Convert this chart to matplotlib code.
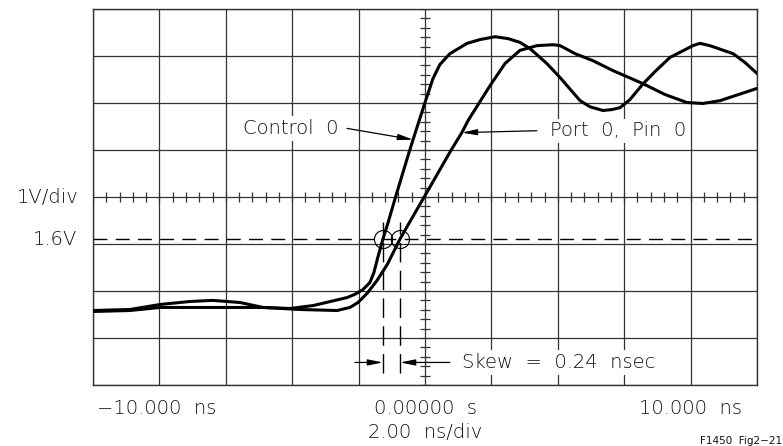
import numpy as np
import matplotlib.pyplot as plt

# Leitura aproximada da tela do osciloscópio (tempo em ns, tensão em V)
control_t = [-10.0, -8.89, -7.98, -7.08, -6.39, -5.57, -4.88, -4.07, -3.37, -2.71,
             -2.35, -2.11, -1.87, -1.66, -1.54, -1.42, -1.265, -1.11, -0.90, -0.48,
             -0.36, 0.0, 0.24, 0.45, 0.75, 1.27, 1.66, 2.11, 2.50, 2.86,
             3.16, 3.67, 4.07, 4.67, 4.97, 5.36, 5.63, 5.87, 6.17, 6.57,
             6.96, 7.38, 8.07, 8.28, 8.58, 9.28, 9.64, 10.0]
control_v = [0.085, 0.106, 0.213, 0.277, 0.30, 0.255, 0.15, 0.128, 0.19, 0.30,
             0.36, 0.43, 0.53, 0.68, 0.89, 1.22, 1.61, 1.96, 2.47, 3.45,
             3.72, 4.51, 5.02, 5.32, 5.55, 5.77, 5.85, 5.91, 5.87, 5.79,
             5.66, 5.34, 5.04, 4.55, 4.42, 4.34, 4.36, 4.40, 4.57, 4.91,
             5.19, 5.47, 5.72, 5.77, 5.72, 5.55, 5.36, 5.13]

port_t = [-10.0, -8.89, -7.98, -6.08, -4.88, -3.76, -2.65, -2.26, -2.02, -1.87,
          -1.72, -1.45, -1.14, -0.75, -0.45, 0.0, 0.78, 1.11, 1.30, 1.96,
          2.41, 2.86, 3.37, 3.86, 4.07, 4.52, 5.06, 5.66, 6.57, 7.23,
          7.89, 8.37, 8.89, 9.10, 10.0]
port_v = [0.064, 0.085, 0.15, 0.15, 0.15, 0.106, 0.085, 0.15, 0.255, 0.36,
          0.47, 0.72, 1.06, 1.61, 1.98, 2.53, 3.49, 3.87, 4.13, 4.87,
          5.34, 5.62, 5.72, 5.74, 5.72, 5.55, 5.40, 5.19, 4.91, 4.68,
          4.51, 4.49, 4.55, 4.60, 4.81]

threshold = 1.6
cross_t = [-1.265, -0.753]   # cruzamentos no limiar
t_min, t_max = -10.0, 10.0
v_min, v_max = -1.5, 6.5
v_center = 2.5

fig = plt.figure(figsize=(7.83, 4.46), dpi=100)
ax = fig.add_axes([93 / 783, 1 - 385 / 446, 664 / 783, 376 / 446])
ax.set_xlim(t_min, t_max)
ax.set_ylim(v_min, v_max)

grid_col = '#333333'
ax.set_xticks(np.arange(t_min, t_max + 0.1, 2.0))
ax.set_yticks(np.arange(v_min, v_max + 0.1, 1.0))
ax.tick_params(length=0, labelbottom=False, labelleft=False)
ax.grid(True, color=grid_col, lw=0.9)
for s in ax.spines.values():
    s.set_color(grid_col)
    s.set_linewidth(1.0)

# marcas menores nos eixos centrais
ax.plot(np.arange(t_min, t_max + 0.01, 0.4), np.full(51, v_center), ls='none',
        marker='|', ms=7, mew=0.9, color=grid_col, zorder=2)
ax.plot(np.zeros(41), np.arange(v_min, v_max + 0.01, 0.2), ls='none',
        marker='_', ms=7, mew=0.9, color=grid_col, zorder=2)

# nível de 1.6 V
ax.axhline(threshold, color='black', lw=1.0, dashes=(10, 6), zorder=2)

# formas de onda
ax.plot(control_t, control_v, color='black', lw=2.2, solid_joinstyle='round', zorder=4)
ax.plot(port_t, port_v, color='black', lw=2.2, solid_joinstyle='round', zorder=4)

# círculos e marcadores de skew
ax.plot(cross_t, [threshold, threshold], ls='none', marker='o', ms=13,
        mfc='none', mec='black', mew=0.8, zorder=5)
for ct in cross_t:
    ax.plot([ct, ct], [-1.25, 1.96], color='black', lw=1.0, dashes=(14, 6), zorder=3)

arrow = dict(arrowstyle='-|>,head_length=0.9,head_width=0.18', color='black',
             lw=0.9, shrinkA=0, shrinkB=0)
tkw = dict(fontsize=14, color='#111111', va='center', fontweight='light',
           bbox=dict(facecolor='white', edgecolor='none', pad=2))

ax.annotate('', xy=(-0.36, 3.72), xytext=(-2.35, 3.96), arrowprops=arrow, zorder=6)
ax.text(-2.62, 3.96, 'Control  0', ha='right', zorder=6, **tkw)

ax.annotate('', xy=(1.11, 3.87), xytext=(3.37, 3.91), arrowprops=arrow, zorder=6)
ax.text(3.77, 3.91, 'Port  0,  Pin  0', ha='left', zorder=6, **tkw)

ax.annotate('', xy=(cross_t[0], -1.02), xytext=(-2.11, -1.02), arrowprops=arrow, zorder=6)
ax.annotate('', xy=(cross_t[1], -1.02), xytext=(0.75, -1.02), arrowprops=arrow, zorder=6)
ax.text(1.11, -1.02, 'Skew  =  0.24  nsec', ha='left', zorder=6, **tkw)

# rótulos fora da área
lab = dict(fontsize=14, color='#111111', va='center', fontweight='light')
left_tr = ax.get_yaxis_transform().__class__(fig.transFigure, ax.transData)
ax.text(79 / 783, v_center, '1V/div', transform=left_tr, ha='right', **lab)
ax.text(77 / 783, threshold, '1.6V', transform=left_tr, ha='right', **lab)
fig.text(97 / 783, 1 - 408 / 446, '\u221210.000  ns', ha='left', **lab)
fig.text(425 / 783, 1 - 408 / 446, '0.00000  s', ha='center', **lab)
fig.text(425 / 783, 1 - 432 / 446, '2.00  ns/div', ha='center', **lab)
fig.text(742 / 783, 1 - 408 / 446, '10.000  ns', ha='right', **lab)
fig.text(782 / 783, 1 - 441 / 446, 'F1450  Fig2\u221221', ha='right', va='center',
         fontsize=7.5, color='#111111')

fig.savefig('out.png', dpi=100)
